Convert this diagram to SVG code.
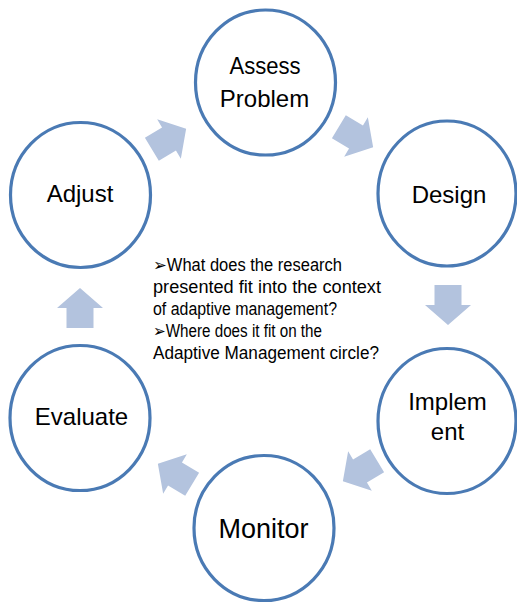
<svg xmlns="http://www.w3.org/2000/svg" width="517" height="606" viewBox="0 0 517 606">
  <style>
    .node ellipse { fill: #ffffff; stroke: #4a7ab4; stroke-width: 3.2; }
    .label { font-family: "Liberation Sans", Arial, sans-serif; font-size: 24px; fill: #000000; text-anchor: middle; }
    .arrow { fill: #b3c3de; }
    .note { font-family: "Liberation Sans", "DejaVu Sans", Arial, sans-serif; font-size: 17.5px; fill: #000000; }
  </style>
  <defs>
    <!-- block arrow pointing right, centred on the origin -->
    <path id="blockArrow" d="M-20,-13.5 L0,-13.5 L0,-23 L20,0 L0,23 L0,13.5 L-20,13.5 Z"/>
  </defs>

  <rect x="0" y="0" width="517" height="606" fill="#ffffff"/>

  <!-- cycle connectors -->
  <g id="connectors" class="arrow">
    <use href="#blockArrow" transform="translate(356,137) rotate(31)"/>
    <use href="#blockArrow" transform="translate(448,305) rotate(90)"/>
    <use href="#blockArrow" transform="translate(360,471) rotate(149)"/>
    <use href="#blockArrow" transform="translate(175,474) rotate(211)"/>
    <use href="#blockArrow" transform="translate(80,308) rotate(-90)"/>
    <use href="#blockArrow" transform="translate(169,139) rotate(-31)"/>
  </g>

  <g id="assess" class="node">
    <ellipse cx="265.5" cy="82.5" rx="70" ry="72.5"/>
    <text class="label" x="265" y="74" textLength="71" lengthAdjust="spacingAndGlyphs">Assess</text>
    <text class="label" x="264.5" y="107">Problem</text>
  </g>

  <g id="design" class="node">
    <ellipse cx="447" cy="193.5" rx="69" ry="72.5"/>
    <text class="label" x="449" y="203">Design</text>
  </g>

  <g id="implement" class="node">
    <ellipse cx="447" cy="421" rx="69" ry="72.5"/>
    <text class="label" x="447.5" y="410">Implem</text>
    <text class="label" x="447.5" y="440">ent</text>
  </g>

  <g id="monitor" class="node">
    <ellipse cx="264" cy="528" rx="70" ry="72.5"/>
    <text class="label" x="263.5" y="538" style="font-size:27px">Monitor</text>
  </g>

  <g id="evaluate" class="node">
    <ellipse cx="80" cy="418" rx="70" ry="72.5"/>
    <text class="label" x="81.5" y="425">Evaluate</text>
  </g>

  <g id="adjust" class="node">
    <ellipse cx="80.5" cy="195" rx="70" ry="72.5"/>
    <text class="label" x="80" y="202">Adjust</text>
  </g>

  <!-- central questions -->
  <g id="questions" class="note">
    <text x="153" y="271" textLength="189" lengthAdjust="spacingAndGlyphs">➢What does the research</text>
    <text x="153" y="293" textLength="228" lengthAdjust="spacingAndGlyphs">presented fit into the context</text>
    <text x="153" y="315" textLength="184" lengthAdjust="spacingAndGlyphs">of adaptive management?</text>
    <text x="153" y="337" textLength="169" lengthAdjust="spacingAndGlyphs">➢Where does it fit on the</text>
    <text x="153" y="359" textLength="226" lengthAdjust="spacingAndGlyphs">Adaptive Management circle?</text>
  </g>
</svg>
